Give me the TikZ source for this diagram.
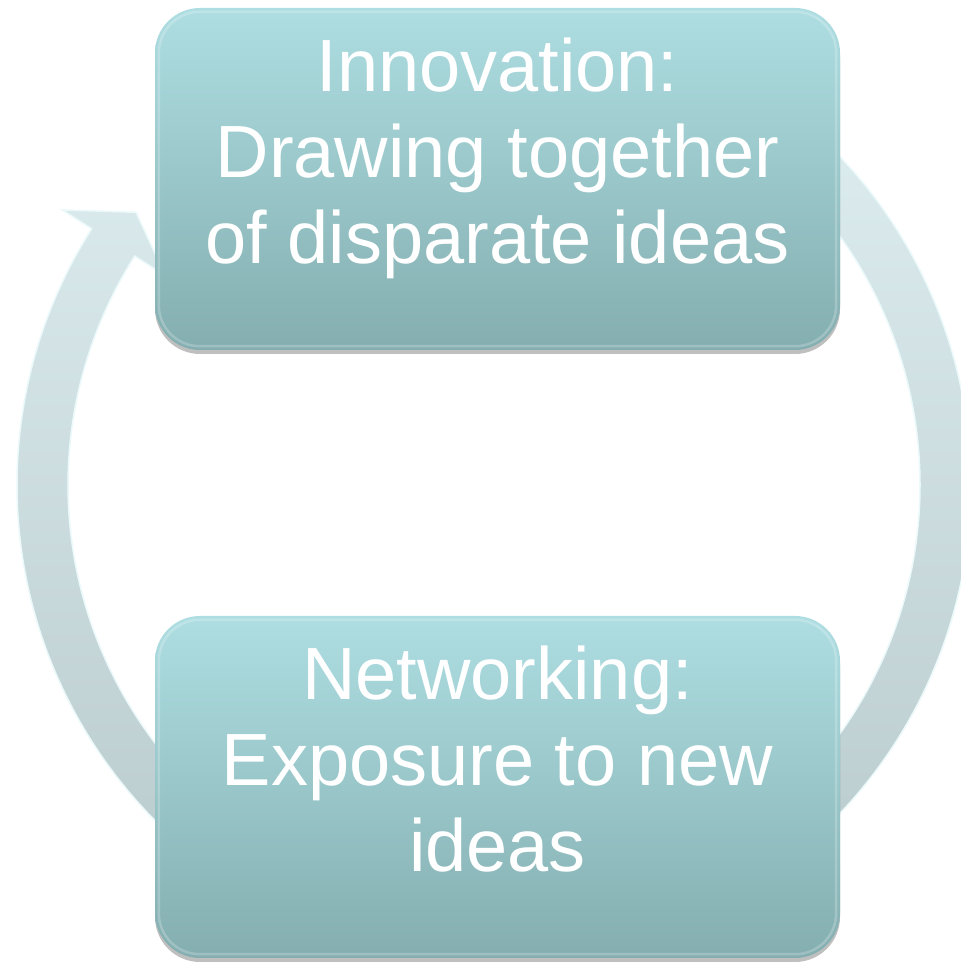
\documentclass[tikz,border=0pt]{standalone}
\usepackage{fontspec}
\setmainfont{Liberation Sans}
\usetikzlibrary{calc,shadows}
\definecolor{ringtop}{RGB}{222,238,240}
\definecolor{ringbot}{RGB}{186,203,205}
\definecolor{boxtop}{RGB}{174,222,226}
\definecolor{boxbot}{RGB}{132,174,176}
\definecolor{ringedge}{RGB}{236,249,250}
\begin{document}
\begin{tikzpicture}[x=1pt,y=1pt,
  stagebox/.style={rounded corners=45pt, minimum width=685pt, minimum height=342pt,
    inner sep=0pt, top color=boxtop, bottom color=boxbot, draw=none,
    drop shadow={shadow xshift=0pt, shadow yshift=-4pt, opacity=0.25, fill=black}},
  stagetext/.style={text=white, align=center, font=\fontsize{74}{86}\selectfont, inner sep=0pt},
  ringpart/.style={top color=ringtop, bottom color=ringbot, draw=ringedge, line width=1.5pt},
  bevel/.style={draw=white, opacity=0.22, line width=2.5pt, rounded corners=41pt}]
\useasboundingbox (0,0) rectangle (961,962);
\fill[white] (0,0) rectangle (961,962);
\coordinate (C) at (494,477);
% cycle ring: left arc with arrow head, right arc
\path[ringpart]
  ($(C)+(240:477)$) arc[start angle=240,end angle=147.5,radius=477]
  -- ($(C)+(147.5:512)$) -- ($(C)+(142.7:450)$) -- ($(C)+(147.5:390)$)
  -- ($(C)+(147.5:426)$) arc[start angle=147.5,end angle=240,radius=426] -- cycle
  ($(C)+(55:477)$) arc[start angle=55,end angle=-60,radius=477]
  -- ($(C)+(-60:426)$) arc[start angle=-60,end angle=55,radius=426] -- cycle;
% boxes
\node[stagebox] (boxA) at (497.5,783) {};
\node[stagebox] (boxB) at (497.5,175) {};
\draw[bevel] ([shift={(4,-4)}]boxA.north west) rectangle ([shift={(-4,4)}]boxA.south east);
\draw[bevel] ([shift={(4,-4)}]boxB.north west) rectangle ([shift={(-4,4)}]boxB.south east);
\node[stagetext] (txtA) at ([yshift=20.75pt]boxA.center) {Innovation:\\Drawing together\\of disparate ideas};
\node[stagetext] (txtB) at ([yshift=28pt]boxB.center) {Networking:\\Exposure to new\\ideas};
\end{tikzpicture}
\end{document}
